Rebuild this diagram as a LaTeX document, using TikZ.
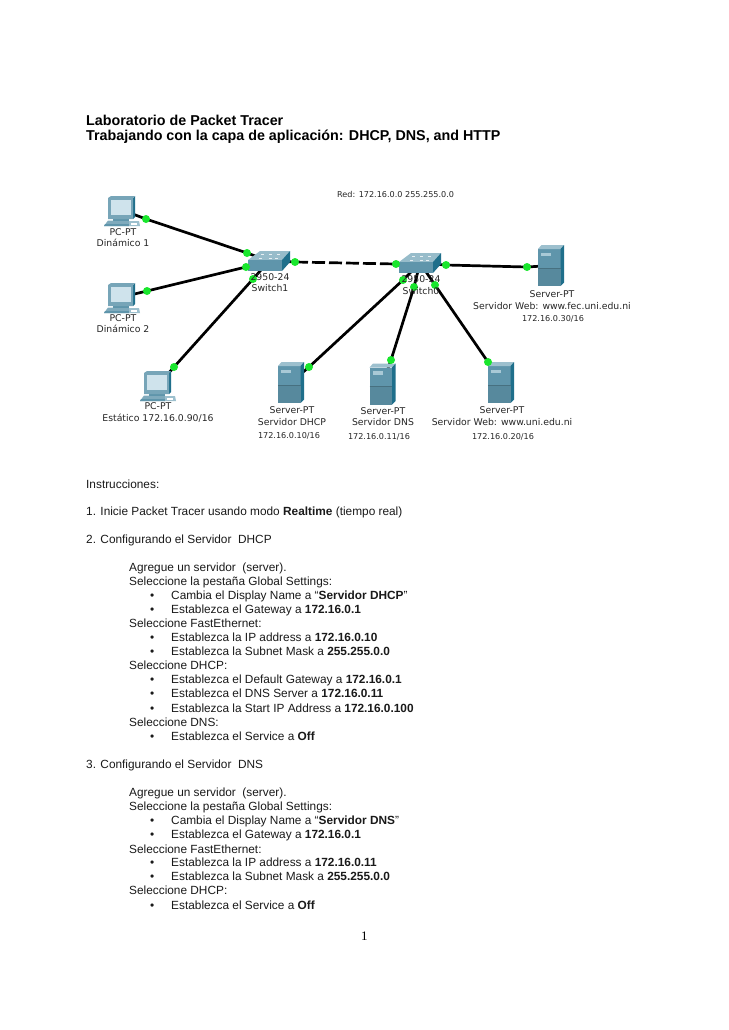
\documentclass[tikz,border=0pt]{standalone}
\usepackage{fontspec}
\setmainfont{Liberation Sans}
\newfontfamily\ptfont{DejaVu Sans}
\newfontfamily\pagefont{Liberation Serif}
\usetikzlibrary{backgrounds}
\definecolor{srvfront}{HTML}{5F95AB}
\definecolor{srvtop}{HTML}{9DC0CE}
\definecolor{srvside}{HTML}{1F6F8B}
\definecolor{srvslot}{HTML}{A9C9D6}
\definecolor{scr}{HTML}{CFE3EC}
\definecolor{dotgreen}{HTML}{19E62D}
\definecolor{txt}{HTML}{1A1A1A}
\tikzset{
  x=1pt,y=-1pt,
  titletext/.style={anchor=base west,inner sep=0pt,font=\fontsize{14.3}{16}\selectfont\bfseries,text=black},
  bodytext/.style={anchor=base west,inner sep=0pt,font=\fontsize{11.85}{13}\selectfont,text=txt},
  pagenum/.style={anchor=base west,inner sep=0pt,font=\pagefont\fontsize{13}{15}\selectfont,text=black},
  ptlabel/.style={anchor=center,inner sep=0pt,font=\ptfont\fontsize{9.3}{10}\selectfont,text=black!85},
  iplabel/.style={anchor=center,inner sep=0pt,font=\ptfont\fontsize{8.1}{10}\selectfont,text=black!85},
  port/.style={circle,fill=dotgreen,draw=none,minimum size=8pt,inner sep=0pt},
  dev/.style={inner sep=0pt,minimum size=2pt,draw=none},
  link/.style={draw=black,line width=2.7pt},
  dashlink/.style={draw=black,line width=2.7pt,dash pattern=on 13pt off 4pt},
  srvicon/.pic={
    \fill[srvfront] (-13,-16.5) -- (9.5,-16.5) -- (9.5,20.5) -- (-13,20.5) -- cycle;
    \fill[srvtop] (-13,-16.5) -- (-9.5,-20.5) -- (13,-20.5) -- (9.5,-16.5) -- cycle;
    \fill[srvside] (9.5,-16.5) -- (13,-20.5) -- (13,17) -- (9.5,20.5) -- cycle;
    \fill[srvslot] (-10,-13) rectangle (0,-9.5);
    \draw[srvfront!75!black,line width=.5pt] (-13,2.5) -- (9.5,2.5);
    \fill[srvfront!92!black] (-13,3) rectangle (9.5,20.5);
  },
  pcicon/.pic={
    % keyboard and mouse
    \fill[srvfront!80!white] (-18,16) -- (-14,10.5) -- (7,10.5) -- (7,16) -- cycle;
    \fill[srvfront] (-18,16) -- (-17,14) -- (7,14) -- (7,16) -- cycle;
    \fill[srvtop] (7,11) -- (17,11) -- (18,16) -- (7,16) -- cycle;
    \fill[white] (9,12.5) rectangle (15,15);
    % stand
    \fill[srvfront] (-9,8) rectangle (7,11);
    % monitor
    \fill[srvside] (11,-12) -- (13,-14) -- (13,7) -- (11,9) -- cycle;
    \fill[srvfront!85!white] (-14,-12) -- (-11,-14) -- (13,-14) -- (11,-12) -- (11,9) -- (-14,9) -- cycle;
    \fill[scr] (-11,-10.5) rectangle (9,5);
  },
  swicon/.pic={
    \fill[srvtop!90!srvfront] (-21,-1) -- (-9,-10) -- (21,-10) -- (13,-1) -- cycle;
    \fill[srvfront] (-21,-1) -- (13,-1) -- (13,10) -- (-21,10) -- cycle;
    \fill[srvside] (13,-1) -- (21,-10) -- (21,1) -- (13,10) -- cycle;
    \foreach \a/\b in {-8/-7,0/-7,8/-7,-10/-3,0/-3,6/-3}
      \fill[white!85!srvfront] (\a,\b) rectangle ++(3,1);
  },
}
\newcommand{\bitem}[3]{%
  \node[bodytext] (#1b) at (150,#2) {\textbullet};
  \node[bodytext] (#1) at (171,#2) {#3};}
\begin{document}
\begin{tikzpicture}
\useasboundingbox (0,0) rectangle (728,1030);

% Title
\node[titletext] (t1) at (86,125) {Laboratorio de Packet Tracer};
\node[titletext] (t2) at (86,140) {Trabajando con la capa de aplicación: DHCP, DNS, and HTTP};

% Devices
\node[dev] (pc1) at (122,210) {};
\node[dev] (pc2) at (122,297) {};
\node[dev] (pc3) at (158,385) {};
\node[dev] (sw1) at (269,261) {};
\node[dev] (sw0) at (420,263) {};
\node[dev] (srvdhcp) at (291,382.5) {};
\node[dev] (srvdns) at (382.5,384) {};
\node[dev] (srvuni) at (501,382.5) {};
\node[dev] (srvfec) at (551,265.5) {};

\pic at (pc1) {pcicon};
\pic at (pc2) {pcicon};
\pic at (pc3) {pcicon};
\pic at (sw1) {swicon};
\pic at (sw0) {swicon};
\pic at (srvdhcp) {srvicon};
\pic at (srvdns) {srvicon};
\pic at (srvuni) {srvicon};
\pic at (srvfec) {srvicon};

% Ports
\node[port] (pa) at (146,219) {};
\node[port] (pb) at (247,253) {};
\node[port] (pc) at (147,291) {};
\node[port] (pd) at (246,267) {};
\node[port] (pe) at (174,367) {};
\node[port] (pf) at (253,279) {};
\node[port] (pg) at (295,262) {};
\node[port] (ph) at (396,264) {};
\node[port] (pi) at (446,265) {};
\node[port] (pj) at (527,267) {};
\node[port] (pk) at (403,280) {};
\node[port] (pl) at (309,367) {};
\node[port] (pm) at (414,287) {};
\node[port] (pn) at (391,360) {};
\node[port] (po) at (435,285) {};
\node[port] (pp) at (488,362) {};

% Links behind icons
\begin{scope}[on background layer]
  \fill[white] (0,0) rectangle (728,1030);
  \draw[link] (pc1.center) -- (pa.center) -- (pb.center) -- (sw1.center);
  \draw[link] (pc2.center) -- (pc.center) -- (pd.center) -- (sw1.center);
  \draw[link] (pc3.center) -- (pe.center) -- (pf.center) -- (sw1.center);
  \draw[dashlink] (pg.center) -- (ph.center);
  \draw[link] (sw1.center) -- (pg.center);
  \draw[link] (ph.center) -- (sw0.center);
  \draw[link] (sw0.center) -- (pi.center) -- (pj.center) -- (srvfec.center);
  \draw[link] (sw0.center) -- (pk.center) -- (pl.center) -- (srvdhcp.center);
  \draw[link] (sw0.center) -- (pm.center) -- (pn.center) -- (srvdns.center);
  \draw[link] (sw0.center) -- (po.center) -- (pp.center) -- (srvuni.center);
\end{scope}

% Diagram labels
\node[iplabel,anchor=west] (red) at (337,194) {Red: 172.16.0.0 255.255.0.0};
\node[ptlabel] (a1) at (123,232) {PC-PT};
\node[ptlabel] (a2) at (123,243) {Dinámico 1};
\node[ptlabel] (b1) at (123,318) {PC-PT};
\node[ptlabel] (b2) at (123,329) {Dinámico 2};
\node[ptlabel] (c1) at (158,406) {PC-PT};
\node[ptlabel] (c2) at (158,418) {Estático 172.16.0.90/16};
\node[ptlabel] (d1) at (270,277) {2950-24};
\node[ptlabel] (d2) at (270,288) {Switch1};
\node[ptlabel] (e1) at (421,279) {2950-24};
\node[ptlabel] (e2) at (421,291) {Switch0};
\node[ptlabel] (f1) at (292,410) {Server-PT};
\node[ptlabel] (f2) at (292,422) {Servidor DHCP};
\node[iplabel] (f3) at (289,436) {172.16.0.10/16};
\node[ptlabel] (g1) at (383,411) {Server-PT};
\node[ptlabel] (g2) at (383,422) {Servidor DNS};
\node[iplabel] (g3) at (379,437) {172.16.0.11/16};
\node[ptlabel] (h1) at (502,410) {Server-PT};
\node[ptlabel] (h2) at (502,422) {Servidor Web: www.uni.edu.ni};
\node[iplabel] (h3) at (503,437) {172.16.0.20/16};
\node[ptlabel] (i1) at (552,294) {Server-PT};
\node[ptlabel] (i2) at (552,306) {Servidor Web: www.fec.uni.edu.ni};
\node[iplabel] (i3) at (553,319) {172.16.0.30/16};

% Body
\node[bodytext] (l1) at (86,488) {Instrucciones:};
\node[bodytext] (l2) at (86,515) {1. Inicie Packet Tracer usando modo \textbf{Realtime} (tiempo real)};
\node[bodytext] (l3) at (86,543) {2. Configurando el Servidor\ \ DHCP};
\node[bodytext] (l4) at (129,571) {Agregue un servidor\ \ (server).};
\node[bodytext] (l5) at (129,585) {Seleccione la pestaña Global Settings:};
\bitem{l6}{599}{Cambia el Display Name a “\textbf{Servidor DHCP}”}
\bitem{l7}{613}{Establezca el Gateway a \textbf{172.16.0.1}}
\node[bodytext] (l8) at (129,627) {Seleccione FastEthernet:};
\bitem{l9}{641}{Establezca la IP address a \textbf{172.16.0.10}}
\bitem{l10}{655}{Establezca la Subnet Mask a \textbf{255.255.0.0}}
\node[bodytext] (l11) at (129,669) {Seleccione DHCP:};
\bitem{l12}{683}{Establezca el Default Gateway a \textbf{172.16.0.1}}
\bitem{l13}{697}{Establezca el DNS Server a \textbf{172.16.0.11}}
\bitem{l14}{712}{Establezca la Start IP Address a \textbf{172.16.0.100}}
\node[bodytext] (l15) at (129,726) {Seleccione DNS:};
\bitem{l16}{740}{Establezca el Service a \textbf{Off}}
\node[bodytext] (l17) at (86,768) {3. Configurando el Servidor\ \ DNS};
\node[bodytext] (l18) at (129,796) {Agregue un servidor\ \ (server).};
\node[bodytext] (l19) at (129,810) {Seleccione la pestaña Global Settings:};
\bitem{l20}{824}{Cambia el Display Name a “\textbf{Servidor DNS}”}
\bitem{l21}{838}{Establezca el Gateway a \textbf{172.16.0.1}}
\node[bodytext] (l22) at (129,853) {Seleccione FastEthernet:};
\bitem{l23}{866}{Establezca la IP address a \textbf{172.16.0.11}}
\bitem{l24}{880}{Establezca la Subnet Mask a \textbf{255.255.0.0}}
\node[bodytext] (l25) at (129,894) {Seleccione DHCP:};
\bitem{l26}{909}{Establezca el Service a \textbf{Off}}
\node[pagenum] (pg1) at (361,940) {1};
\end{tikzpicture}
\end{document}
